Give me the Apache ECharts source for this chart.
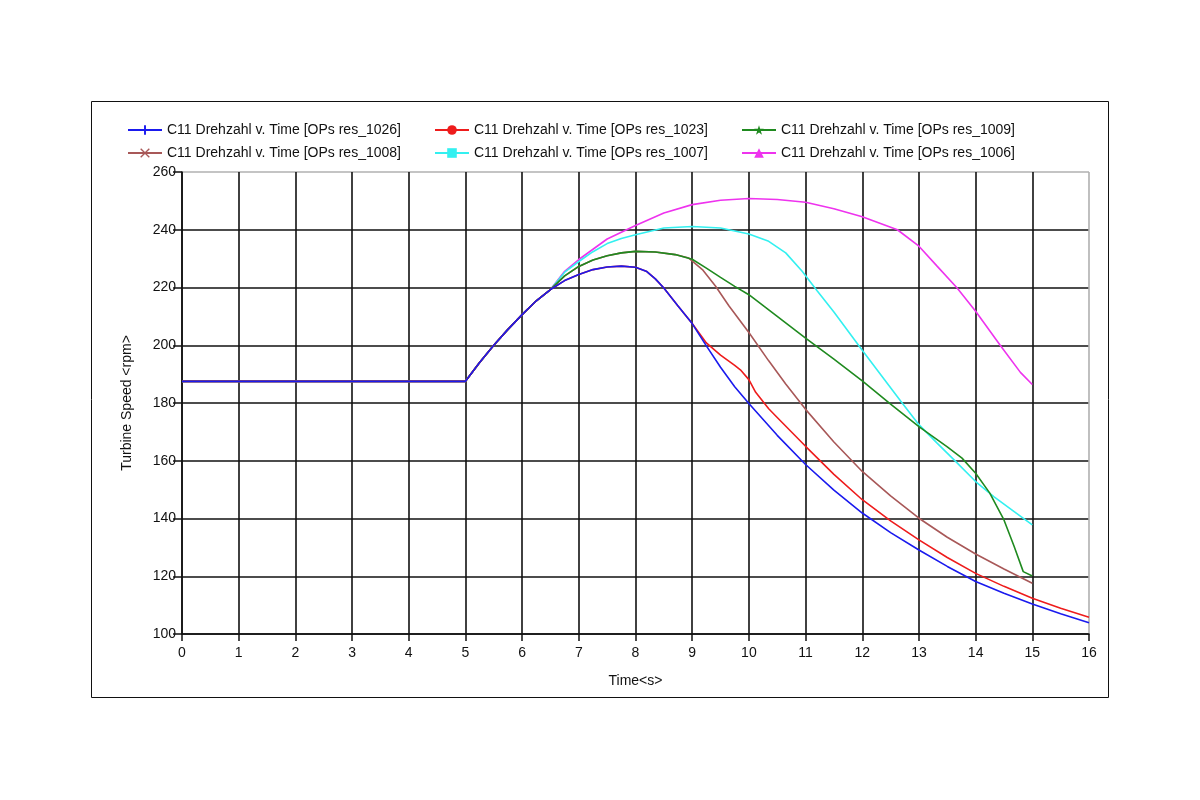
<!DOCTYPE html>
<html>
<head>
<meta charset="utf-8">
<script src="https://cdn.jsdelivr.net/npm/echarts@6/dist/echarts.min.js"></script>
<style>
  html, body { margin:0; padding:0; background:#fff; }
  #chart { width:1200px; height:800px; }
</style>
</head>
<body>
<div id="chart"></div>
<script>
// ======== データ ========
// 共通部分（0〜6.5秒）
const baseTime  = [0, 5, 5.25, 5.5, 5.75, 6, 6.25, 6.5];
const baseSpeed = [187.5, 187.5, 194, 200, 205.5, 210.6, 215.4, 219.3];

// res_1026（青）
const time1026  = [6.75, 7, 7.25, 7.5, 7.75, 8, 8.2, 8.35, 8.5, 8.75, 9, 9.25, 9.5, 9.75, 10, 10.5, 11, 11.5, 12, 12.5, 13, 13.5, 14, 14.5, 15, 15.5, 16];
const speed1026 = [222.4, 224.5, 226.2, 227.1, 227.4, 227, 225.5, 223, 219.8, 213.6, 207.5, 199.8, 192.4, 185.6, 179.8, 168.8, 158.7, 149.8, 141.9, 135.1, 129.1, 123.4, 118.2, 114.1, 110.4, 107, 103.9];

// res_1023（赤）— 9秒まで青と同じ
const time1023  = [6.75, 7, 7.25, 7.5, 7.75, 8, 8.2, 8.35, 8.5, 8.75, 9, 9.25, 9.5, 9.75, 9.85, 10, 10.12, 10.35, 10.5, 11, 11.5, 12, 12.5, 13, 13.5, 14, 14.5, 15, 15.5, 16];
const speed1023 = [222.4, 224.5, 226.2, 227.1, 227.4, 227, 225.5, 223, 219.8, 213.6, 207.5, 200.8, 196.6, 193, 191.5, 188.1, 183.7, 178, 175, 165, 155.3, 146.5, 139.2, 132.6, 126.5, 121, 116.5, 112.4, 108.9, 105.8];

// res_1009（緑）
const time1009  = [6.75, 7, 7.25, 7.5, 7.75, 8, 8.35, 8.7, 9, 9.25, 9.5, 9.75, 10, 10.5, 11, 11.5, 12, 12.5, 13, 13.5, 13.76, 14, 14.25, 14.5, 14.68, 14.84, 15];
const speed1009 = [224, 227.3, 229.5, 231, 232, 232.5, 232.3, 231.4, 229.8, 226.7, 223.5, 220.4, 217.5, 210, 202.5, 195.2, 187.7, 179.6, 171.8, 164.8, 160.9, 155.7, 148.8, 139.5, 130.3, 121.6, 120.1];

// res_1008（茶）— 8.9秒まで緑と同じ
const time1008  = [6.75, 7, 7.25, 7.5, 7.75, 8, 8.35, 8.7, 8.94, 9.18, 9.41, 9.65, 10, 10.35, 10.65, 11, 11.5, 12, 12.5, 13, 13.5, 14, 14.5, 15];
const speed1008 = [224, 227.3, 229.5, 231, 232, 232.5, 232.3, 231.4, 230.2, 226.2, 220.5, 213.6, 204.4, 194.6, 186.6, 177.8, 166.5, 156.3, 147.8, 140.1, 133.5, 127.7, 122.5, 117.6];

// res_1007（シアン）
const time1007  = [6.75, 7, 7.25, 7.5, 7.75, 8, 8.5, 9, 9.5, 10, 10.35, 10.65, 10.94, 11.2, 11.5, 12, 12.5, 12.68, 13, 13.32, 13.62, 14, 14.32, 14.68, 15];
const speed1007 = [225.3, 229, 232.4, 235.2, 237, 238.3, 240.6, 241.1, 240.6, 238.5, 236, 232, 225.6, 219, 211.5, 198.3, 185.3, 180.6, 172.5, 166.1, 160.3, 152.8, 147.6, 142.4, 137.8];

// res_1006（マゼンタ）
const time1006  = [6.75, 7, 7.5, 8, 8.5, 9, 9.5, 10, 10.5, 11, 11.5, 12, 12.62, 13, 13.32, 13.67, 14, 14.43, 14.79, 15];
const speed1006 = [225.6, 229.7, 236.8, 241.5, 245.8, 248.7, 250.2, 250.8, 250.5, 249.5, 247.3, 244.5, 240, 234.3, 227.4, 219.9, 211.8, 200.1, 190.6, 186.4];

const seriesNames = [
  'C11 Drehzahl v. Time [OPs res_1026]',
  'C11 Drehzahl v. Time [OPs res_1023]',
  'C11 Drehzahl v. Time [OPs res_1009]',
  'C11 Drehzahl v. Time [OPs res_1008]',
  'C11 Drehzahl v. Time [OPs res_1007]',
  'C11 Drehzahl v. Time [OPs res_1006]'
];
const xTicks = { min:0, max:16, interval:1 };
const yTicks = { min:100, max:260, interval:20 };

// ======== 描画 ========
const colors  = ['#1a1aee', '#ee1c1c', '#1f8a1f', '#a85858', '#33f0f0', '#ee33ee'];
const symbols = [
  'path://M4,0H6V4H10V6H6V10H4V6H0V4H4Z',
  'circle',
  'path://M5,0L6.2,3.6L10,3.6L7,5.9L8.1,9.5L5,7.3L1.9,9.5L3,5.9L0,3.6L3.8,3.6Z',
  'path://M1,0L5,4L9,0L10,1L6,5L10,9L9,10L5,6L1,10L0,9L4,5L0,1Z',
  'rect',
  'triangle'
];
const times  = [time1026, time1023, time1009, time1008, time1007, time1006];
const speeds = [speed1026, speed1023, speed1009, speed1008, speed1007, speed1006];
const zOrder = [8, 7, 6, 5, 4, 3];

function pairs(t, v){
  const all_t = baseTime.concat(t);
  const all_v = baseSpeed.concat(v);
  return all_t.map((x, i) => [x, all_v[i]]);
}

const font = 'Liberation Sans, Arial, sans-serif';
const legendX = [127, 434, 741];
const legendY = [123, 146];

const legends = seriesNames.map((n, i) => ({
  data:[n],
  left: legendX[i % 3],
  top: legendY[Math.floor(i / 3)],
  itemWidth: 34, itemHeight: 12, padding: 0,
  textStyle:{ fontFamily: font, fontSize: 14, color:'#111' }
}));

// 上端・右端の枠線だけ灰色
const ySplitColors = Array(8).fill('#111').concat(['#b0b0b0']);
const xSplitColors = Array(16).fill('#111').concat(['#b0b0b0']);

const chart = echarts.init(document.getElementById('chart'));
chart.setOption({
  animation:false,
  backgroundColor:'#fff',
  legend: legends,
  grid:{ left:182, right:111, top:172, bottom:166 },
  graphic:[{
    type:'rect', silent:true,
    shape:{ x:91.5, y:101.5, width:1017, height:596 },
    style:{ fill:'none', stroke:'#111', lineWidth:1 }
  }],
  xAxis:{
    type:'value', min:xTicks.min, max:xTicks.max, interval:xTicks.interval,
    name:'Time<s>', nameLocation:'middle', nameGap:40,
    nameTextStyle:{ fontFamily:font, fontSize:14, color:'#111' },
    axisLine:{ show:true, onZero:false, lineStyle:{ color:'#111', width:1.5 } },
    axisTick:{ show:true, length:7, lineStyle:{ color:'#111', width:1.5 } },
    axisLabel:{ fontFamily:font, fontSize:14, color:'#111', margin:12 },
    splitLine:{ show:true, lineStyle:{ color:xSplitColors, width:1.6 } }
  },
  yAxis:{
    type:'value', min:yTicks.min, max:yTicks.max, interval:yTicks.interval,
    name:'Turbine Speed <rpm>', nameLocation:'middle', nameGap:48,
    nameTextStyle:{ fontFamily:font, fontSize:14, color:'#111' },
    axisLine:{ show:true, lineStyle:{ color:'#111', width:1.5 } },
    axisTick:{ show:true, length:9, lineStyle:{ color:'#111', width:1.5 } },
    axisLabel:{ fontFamily:font, fontSize:14, color:'#111', margin:6 },
    splitLine:{ show:true, lineStyle:{ color:ySplitColors, width:1.6 } }
  },
  series: seriesNames.map((n, i) => ({
    name:n, type:'line',
    data: pairs(times[i], speeds[i]),
    symbol: symbols[i], showSymbol:false, symbolSize:10,
    smooth:false,
    z: zOrder[i],
    itemStyle:{ color: colors[i] },
    lineStyle:{ color: colors[i], width:1.6 }
  }))
});
</script>
</body>
</html>
